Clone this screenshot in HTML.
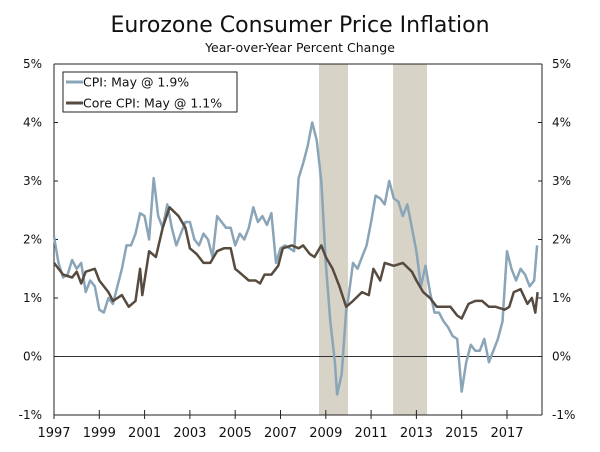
<!DOCTYPE html>
<html><head><meta charset="utf-8"><style>
body{margin:0;background:#fff;}
svg text{font-family:"DejaVu Sans","Liberation Sans",sans-serif;fill:#111;}
</style></head><body>
<svg id="chart" width="600" height="447" xmlns="http://www.w3.org/2000/svg">
<text x="300" y="32" text-anchor="middle" font-size="22" style="font-family:'DejaVu Sans',sans-serif">Eurozone Consumer Price Inflation</text>
<text x="300" y="52" text-anchor="middle" font-size="12.5">Year-over-Year Percent Change</text>
<g id="rec"></g><g id="axes"></g><g id="lines"></g>
<g>
<rect x="63" y="72" width="174" height="40" fill="#fff" stroke="#222" stroke-width="1"/>
<line x1="66" y1="82" x2="83" y2="82" stroke="#8aa4b8" stroke-width="3"/>
<text x="83" y="86.5" font-size="12.5">CPI: May @ 1.9%</text>
<line x1="66" y1="103" x2="83" y2="103" stroke="#574a3f" stroke-width="3"/>
<text x="83" y="107.5" font-size="12.5">Core CPI: May @ 1.1%</text>
</g>
</svg>
<script>
const yTicks=[5,4,3,2,1,0,-1];
const xTickYears=[1997,1999,2001,2003,2005,2007,2009,2011,2013,2015,2017];
const recessions=[[2008.7,2009.98],[2011.97,2013.47]];
const cpiDates=[1997.0,1997.2,1997.4,1997.6,1997.8,1998.0,1998.2,1998.4,1998.6,1998.8,1999.0,1999.2,1999.4,1999.6,1999.8,2000.0,2000.2,2000.4,2000.6,2000.8,2001.0,2001.2,2001.4,2001.6,2001.8,2002.0,2002.2,2002.4,2002.6,2002.8,2003.0,2003.2,2003.4,2003.6,2003.8,2004.0,2004.2,2004.4,2004.6,2004.8,2005.0,2005.2,2005.4,2005.6,2005.8,2006.0,2006.2,2006.4,2006.6,2006.8,2007.0,2007.2,2007.4,2007.6,2007.8,2008.0,2008.2,2008.4,2008.6,2008.8,2009.0,2009.2,2009.4,2009.5,2009.7,2009.9,2010.0,2010.2,2010.4,2010.6,2010.8,2011.0,2011.2,2011.4,2011.6,2011.8,2012.0,2012.2,2012.4,2012.6,2012.8,2013.0,2013.2,2013.4,2013.6,2013.8,2014.0,2014.2,2014.4,2014.6,2014.8,2015.0,2015.2,2015.4,2015.6,2015.8,2016.0,2016.2,2016.4,2016.6,2016.8,2017.0,2017.2,2017.4,2017.6,2017.8,2018.0,2018.2,2018.33];
const cpiValues=[2.05,1.6,1.35,1.4,1.65,1.5,1.6,1.1,1.3,1.2,0.8,0.75,1.0,0.9,1.2,1.5,1.9,1.9,2.1,2.45,2.4,2.0,3.05,2.4,2.2,2.6,2.2,1.9,2.1,2.3,2.3,2.0,1.9,2.1,2.0,1.7,2.4,2.3,2.2,2.2,1.9,2.1,2.0,2.2,2.55,2.3,2.4,2.25,2.45,1.6,1.85,1.9,1.85,1.8,3.05,3.3,3.6,4.0,3.7,3.0,1.6,0.6,-0.1,-0.65,-0.3,0.8,1.0,1.6,1.5,1.7,1.9,2.3,2.75,2.7,2.6,3.0,2.7,2.65,2.4,2.6,2.2,1.8,1.2,1.55,1.1,0.75,0.75,0.6,0.5,0.35,0.3,-0.6,-0.1,0.2,0.1,0.1,0.3,-0.1,0.1,0.3,0.6,1.8,1.5,1.3,1.5,1.4,1.2,1.3,1.9];
const coreDates=[1997.0,1997.4,1997.8,1998.0,1998.2,1998.4,1998.8,1999.0,1999.4,1999.6,2000.0,2000.3,2000.6,2000.8,2000.9,2001.2,2001.5,2001.8,2002.1,2002.5,2002.8,2003.0,2003.3,2003.6,2003.9,2004.2,2004.5,2004.8,2005.0,2005.3,2005.6,2005.9,2006.1,2006.3,2006.6,2006.9,2007.1,2007.5,2007.8,2008.0,2008.3,2008.5,2008.8,2009.0,2009.3,2009.6,2009.9,2010.2,2010.6,2010.9,2011.1,2011.4,2011.6,2012.0,2012.4,2012.8,2013.0,2013.3,2013.6,2013.9,2014.2,2014.5,2014.8,2015.0,2015.3,2015.6,2015.9,2016.2,2016.5,2016.9,2017.1,2017.3,2017.6,2017.9,2018.1,2018.25,2018.35];
const coreValues=[1.6,1.4,1.35,1.45,1.25,1.45,1.5,1.3,1.1,0.95,1.05,0.85,0.95,1.5,1.05,1.8,1.7,2.2,2.55,2.4,2.2,1.85,1.75,1.6,1.6,1.8,1.85,1.85,1.5,1.4,1.3,1.3,1.25,1.4,1.4,1.55,1.85,1.9,1.85,1.9,1.75,1.7,1.9,1.7,1.5,1.2,0.85,0.95,1.1,1.05,1.5,1.3,1.6,1.55,1.6,1.45,1.3,1.1,1.0,0.85,0.85,0.85,0.7,0.65,0.9,0.95,0.95,0.85,0.85,0.8,0.85,1.1,1.15,0.9,1.0,0.75,1.1];

const L=54,R=542,T=64,B=415;
const X=t=>L+(t-1997)*22.65;
const Y=v=>T+(5-v)*(B-T)/6;
const NS='http://www.w3.org/2000/svg';
function mk(tag,attrs,parent){const e=document.createElementNS(NS,tag);for(const k in attrs)e.setAttribute(k,attrs[k]);document.getElementById(parent).appendChild(e);return e;}
recessions.forEach(r=>{const e=mk('rect',{x:X(r[0]),y:T,width:X(r[1])-X(r[0]),height:B-T,fill:'#d8d3c7'},'rec');

});
const ax='axes';
let e=mk('line',{x1:L,y1:T,x2:R,y2:T,stroke:'#222'},ax);
e=mk('line',{x1:L,y1:T,x2:L,y2:B,stroke:'#222'},ax);


e=mk('line',{x1:R,y1:T,x2:R,y2:B,stroke:'#222'},ax);


e=mk('line',{x1:L,y1:B,x2:R,y2:B,stroke:'#222'},ax);


e=mk('line',{x1:L,y1:Y(0),x2:R,y2:Y(0),stroke:'#333'},ax);


yTicks.forEach(v=>{const y=Y(v);
mk('line',{x1:L,y1:y,x2:L+4,y2:y,stroke:'#222'},ax);
mk('line',{x1:R-4,y1:y,x2:R,y2:y,stroke:'#222'},ax);
let t=mk('text',{x:L-12,y:y+4,'text-anchor':'end','font-size':'12'},ax);t.textContent=v+'%';


t=mk('text',{x:R+10,y:y+4,'text-anchor':'start','font-size':'12'},ax);t.textContent=v+'%';

});
xTickYears.forEach(yr=>{const x=X(yr);
mk('line',{x1:x,y1:B-5,x2:x,y2:B+4,stroke:'#222'},ax);
const t=mk('text',{x:x,y:B+22,'text-anchor':'middle','font-size':'13'},ax);t.textContent=yr;

});
function line(d,v,c,name){const p=d.map((t,i)=>(i?'L':'M')+X(t).toFixed(1)+' '+Y(v[i]).toFixed(1)).join('');
const e=mk('path',{d:p,fill:'none',stroke:c,'stroke-width':2.5,'stroke-linejoin':'round'},'lines');

}
line(cpiDates,cpiValues,'#8aa4b8','cpi-line');
line(coreDates,coreValues,'#574a3f','core-cpi-line');
</script>
</body></html>
